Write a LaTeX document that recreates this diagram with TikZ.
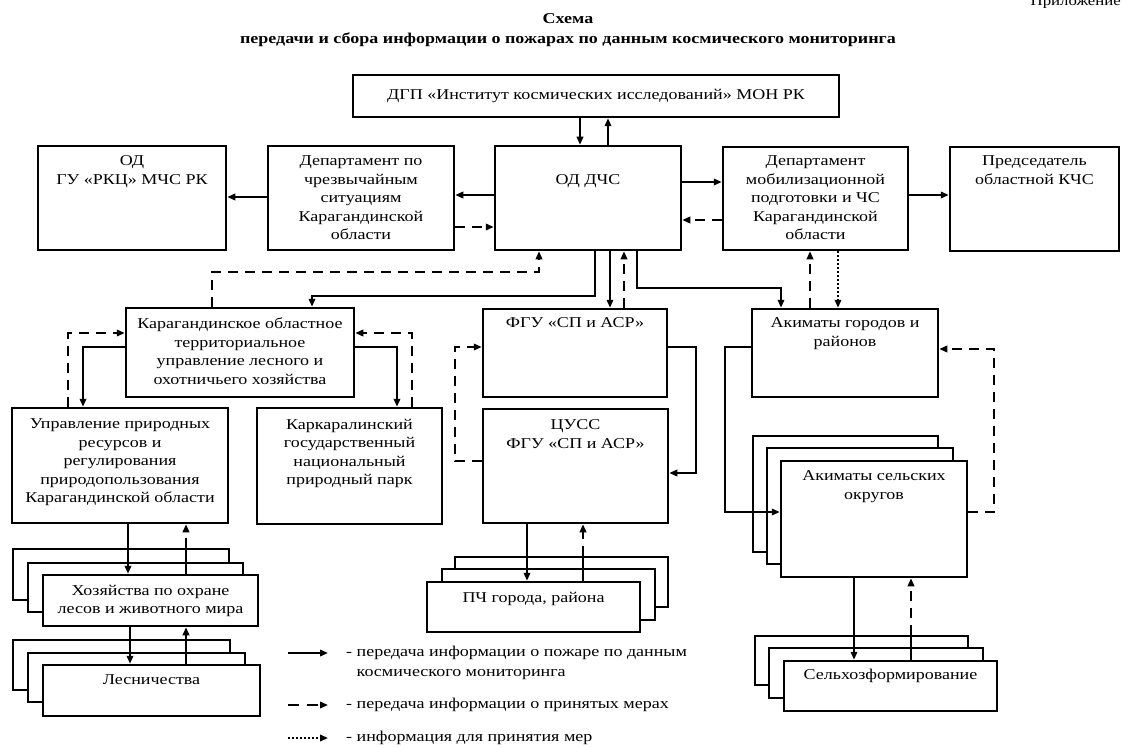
\documentclass[tikz,border=0pt]{standalone}
\usepackage{fontspec}
\setmainfont{Liberation Serif}[FakeStretch=1.2]
\usetikzlibrary{arrows.meta,fit,calc}
\newcommand\bx[3]{\node[box, fit={#2 #3}] (#1) {};}
\begin{document}
\begin{tikzpicture}[x=1pt,y=-1pt,
  box/.style={draw, line width=2.5pt, fill=white, inner sep=0pt},
  txt/.style={font=\fontsize{15}{18.5}\selectfont, align=center, inner sep=0pt, anchor=north},
  ttl/.style={font=\fontsize{15}{18}\selectfont\bfseries, inner sep=0pt},
  lg/.style={font=\fontsize{15}{20}\selectfont, align=left, inner sep=0pt, anchor=north west},
  ln/.style={line width=1.9pt},
  sol/.style={ln, -{Triangle[length=8pt,width=6.5pt]}},
  dsh/.style={sol, dash pattern=on 10pt off 7pt},
  dotarrow/.style={sol, dash pattern=on 2pt off 2pt},
]
\useasboundingbox (0,0) rectangle (1122,749);
\fill[white] (0,0) rectangle (1122,749);

% titles
\node[font=\fontsize{14}{16}\selectfont, anchor=base east, inner sep=0pt] (app) at (1121,6) {Приложение};
\node[ttl] (t1) at (568,19) {Схема};
\node[ttl] (t2) at (568,40) {передачи и сбора информации о пожарах по данным космического мониторинга};

% main boxes
\bx{dgp}{(353,75)}{(839,117)}
\bx{odgu}{(38,146)}{(226,250)}
\bx{dch}{(268,146)}{(454,250)}
\bx{oddch}{(495,146)}{(681,250)}
\bx{dmob}{(723,147)}{(908,250)}
\bx{pred}{(950,147)}{(1119,251)}
\bx{karag}{(126,308)}{(354,397)}
\bx{upr}{(12,408)}{(228,523)}
\bx{kark}{(257,408)}{(442,524)}
\bx{fgu}{(483,309)}{(667,397)}
\bx{cuss}{(483,409)}{(668,523)}
\bx{akg}{(752,309)}{(938,397)}

% stacks
\bx{hoz1}{(13,549)}{(229,600)}
\bx{hoz2}{(28,563)}{(243,612)}
\bx{hoz3}{(43,575)}{(258,626)}
\bx{les1}{(13,640)}{(230,690)}
\bx{les2}{(28,653)}{(245,702)}
\bx{les3}{(43,665)}{(260,716)}
\bx{pch1}{(455,557)}{(668,607)}
\bx{pch2}{(442,569)}{(655,620)}
\bx{pch3}{(427,582)}{(640,632)}
\bx{aks1}{(753,436)}{(938,552)}
\bx{aks2}{(767,448)}{(953,564)}
\bx{aks3}{(781,461)}{(967,577)}
\bx{sel1}{(755,636)}{(968,685)}
\bx{sel2}{(769,648)}{(983,698)}
\bx{sel3}{(784,661)}{(997,711)}

% texts
\node[txt, anchor=center] (dgp-t) at (dgp.center) {ДГП «Институт космических исследований» МОН РК};
\node[txt] (odgu-t) at ($(odgu.north)+(0,11)$) {ОД\\ГУ «РКЦ» МЧС РК};
\node[txt] (dch-t) at ($(dch.north)+(0,11)$) {Департамент по\\чрезвычайным\\ситуациям\\Карагандинской\\области};
\node[txt] (oddch-t) at ($(oddch.north)+(0,30)$) {ОД ДЧС};
\node[txt] (dmob-t) at ($(dmob.north)+(0,10)$) {Департамент\\мобилизационной\\подготовки и ЧС\\Карагандинской\\области};
\node[txt] (pred-t) at ($(pred.north)+(0,10)$) {Председатель\\областной КЧС};
\node[txt] (karag-t) at ($(karag.north)+(0,11)$) {Карагандинское областное\\территориальное\\управление лесного и\\охотничьего хозяйства};
\node[txt] (upr-t) at ($(upr.north)+(0,12)$) {Управление природных\\ресурсов и\\регулирования\\природопользования\\Карагандинской области};
\node[txt] (kark-t) at ($(kark.north)+(0,12)$) {Каркаралинский\\государственный\\национальный\\природный парк};
\node[txt] (fgu-t) at ($(fgu.north)+(0,10)$) {ФГУ «СП и АСР»};
\node[txt] (cuss-t) at ($(cuss.north)+(0,12)$) {ЦУСС\\ФГУ «СП и АСР»};
\node[txt] (akg-t) at ($(akg.north)+(0,10)$) {Акиматы городов и\\районов};
\node[txt] (aks-t) at ($(aks3.north)+(0,11)$) {Акиматы сельских\\округов};
\node[txt] (hoz-t) at ($(hoz3.north)+(0,11)$) {Хозяйства по охране\\лесов и животного мира};
\node[txt] (les-t) at ($(les3.north)+(0,11)$) {Лесничества};
\node[txt] (pch-t) at ($(pch3.north)+(0,11)$) {ПЧ города, района};
\node[txt] (sel-t) at ($(sel3.north)+(0,9)$) {Сельхозформирование};

% connectors
\draw[sol] (dgp.south -| 580,0) -- (oddch.north -| 580,0);
\draw[sol] (oddch.north -| 608,0) -- (dgp.south -| 608,0);
\draw[sol] (oddch.west |- 0,195) -- (dch.east |- 0,195);
\draw[dsh] (dch.east |- 0,227) -- (oddch.west |- 0,227);
\draw[sol] (dch.west |- 0,197) -- (odgu.east |- 0,197);
\draw[sol] (oddch.east |- 0,182) -- (dmob.west |- 0,182);
\draw[dsh] (dmob.west |- 0,220) -- (oddch.east |- 0,220);
\draw[sol] (dmob.east |- 0,195) -- (pred.west |- 0,195);
\draw[dsh] (karag.north -| 212,0) -- (212,272) -- (539,272) -- (oddch.south -| 539,0);
\draw[sol] (oddch.south -| 595,0) -- (595,296) -- (312,296) -- (karag.north -| 312,0);
\draw[sol] (oddch.south -| 610,0) -- (fgu.north -| 610,0);
\draw[dsh] (fgu.north -| 624,0) -- (oddch.south -| 624,0);
\draw[sol] (oddch.south -| 637,0) -- (637,288) -- (781,288) -- (akg.north -| 781,0);
\draw[dsh] (akg.north -| 810,0) -- (dmob.south -| 810,0);
\draw[dotarrow] (dmob.south -| 838,0) -- (akg.north -| 838,0);
\draw[sol] (karag.west |- 0,347) -- (83,347) -- (upr.north -| 83,0);
\draw[dsh] (upr.north -| 68,0) -- (68,333) -- (karag.west |- 0,333);
\draw[sol] (karag.east |- 0,347) -- (397,347) -- (kark.north -| 397,0);
\draw[dsh] (kark.north -| 412,0) -- (412,333) -- (karag.east |- 0,333);
\draw[sol] (fgu.east |- 0,347) -- (696,347) -- (696,473) -- (cuss.east |- 0,473);
\draw[dsh] (cuss.west |- 0,461) -- (455,461) -- (455,347) -- (fgu.west |- 0,347);
\draw[sol] (akg.west |- 0,347) -- (725,347) -- (725,512) -- (aks3.west |- 0,512);
\draw[dsh] (aks3.east |- 0,512) -- (994,512) -- (994,349) -- (akg.east |- 0,349);
\draw[sol] (aks3.south -| 854,0) -- (sel3.north -| 854,0);
\draw[ln] (sel3.north -| 911,0) -- (sel1.north -| 911,0);
\draw[dsh] (sel1.north -| 911,0) -- (aks3.south -| 911,0);
\draw[sol] (upr.south -| 128,0) -- (hoz3.north -| 128,0);
\draw[ln] (hoz3.north -| 186,0) -- (hoz1.north -| 186,0);
\draw[dsh] (hoz1.north -| 186,0) -- (upr.south -| 186,0);
\draw[sol] (hoz3.south -| 130,0) -- (les3.north -| 130,0);
\draw[ln] (les3.north -| 186,0) -- (les1.north -| 186,0);
\draw[dsh] (les1.north -| 186,0) -- (hoz3.south -| 186,0);
\draw[sol] (cuss.south -| 527,0) -- (pch3.north -| 527,0);
\draw[ln] (pch3.north -| 583,0) -- (pch1.north -| 583,0);
\draw[dsh] (pch1.north -| 583,0) -- (cuss.south -| 583,0);

% legend
\coordinate (la1) at (288,653); \coordinate (lb1) at (328,653);
\coordinate (la2) at (288,705); \coordinate (lb2) at (328,705);
\coordinate (la3) at (288,738); \coordinate (lb3) at (328,738);
\draw[sol] (la1) -- (lb1);
\draw[sol, dash pattern=on 11pt off 8pt] (la2) -- (lb2);
\draw[dotarrow] (la3) -- (lb3);
\node[lg] (lt1) at (346,646) {- передача информации о пожаре по данным\\\phantom{- }космического мониторинга};
\node[lg] (lt2) at (346,698) {- передача информации о принятых мерах};
\node[lg] (lt3) at (346,731) {- информация для принятия мер};
\end{tikzpicture}
\end{document}
